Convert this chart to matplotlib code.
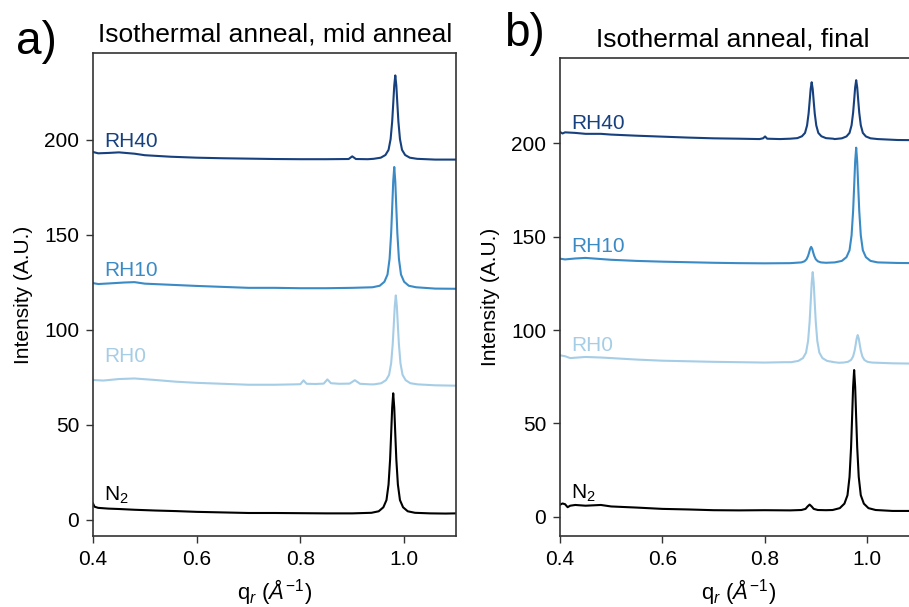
import matplotlib
matplotlib.use("Agg")
import matplotlib.pyplot as plt

plt.rcParams["font.family"] = ["Liberation Sans", "DejaVu Sans"]
plt.rcParams["mathtext.fontset"] = "custom"
plt.rcParams["mathtext.rm"] = "Liberation Sans"
plt.rcParams["mathtext.it"] = "Liberation Sans:italic"

# ---- panel a: mid anneal (q in 1/A, intensity in A.U.) ----
qa_n2 = [0.400, 0.403, 0.41, 0.43, 0.45, 0.48, 0.52, 0.56, 0.60, 0.65, 0.70, 0.75, 0.80, 0.85, 0.90,
         0.937, 0.951, 0.960, 0.966, 0.970, 0.973, 0.975, 0.977, 0.979, 0.981, 0.983, 0.985, 0.988,
         0.992, 0.998, 1.007, 1.021,
         1.05, 1.08, 1.10]
ia_n2 = [8.5, 6.8, 6.2, 5.8, 5.6, 5.2, 4.8, 4.5, 4.1, 3.8, 3.5, 3.5, 3.4, 3.3, 3.3,
         3.6, 4.4, 6.5, 10.3, 18.5, 31.7, 45.0, 58.9, 66.5, 58.9, 45.0, 31.7, 18.5,
         10.3, 6.5, 4.4, 3.6,
         3.3, 3.2, 3.3]

qa_rh0 = [0.40, 0.42, 0.45, 0.48, 0.52, 0.56, 0.60, 0.65, 0.70, 0.75, 0.79,
          0.800, 0.806, 0.812, 0.83, 0.845, 0.852, 0.859, 0.875, 0.895, 0.905, 0.915, 0.935,
          0.942, 0.956, 0.965, 0.971, 0.975, 0.978, 0.980, 0.982, 0.984, 0.986, 0.988, 0.990,
          0.993, 0.997, 1.003, 1.012, 1.026,
          1.06, 1.10]
ia_rh0 = [73.5, 73.2, 74.0, 74.3, 73.5, 72.6, 72.0, 71.5, 71.0, 71.0, 71.2,
          71.3, 73.3, 71.5, 71.4, 71.6, 73.8, 71.8, 71.5, 71.6, 73.4, 71.5, 71.2,
          71.2, 71.8, 73.4, 76.2, 82.3, 92.2, 102.0, 112.4, 118.0, 112.4, 102.0, 92.2,
          82.3, 76.2, 73.4, 71.8, 71.2,
          70.7, 70.5]

qa_rh10 = [0.40, 0.41, 0.43, 0.46, 0.48, 0.50, 0.55, 0.60, 0.65, 0.70, 0.75, 0.80, 0.85, 0.90,
           0.939, 0.953, 0.962, 0.968, 0.972, 0.975, 0.977, 0.979, 0.981, 0.983, 0.985, 0.987,
           0.990, 0.994, 1.000, 1.009, 1.023,
           1.06, 1.10]
ia_rh10 = [124.5, 124.0, 124.3, 124.8, 125.0, 124.2, 123.6, 123.0, 122.5, 122.0, 122.0, 121.8, 121.8, 122.0,
           122.3, 123.1, 125.2, 129.0, 137.3, 150.6, 164.0, 178.0, 185.6, 178.0, 164.0, 150.6,
           137.3, 129.0, 125.2, 123.1, 122.3,
           121.6, 121.5]

qa_rh40 = [0.40, 0.41, 0.43, 0.45, 0.48, 0.50, 0.55, 0.60, 0.65, 0.70, 0.75, 0.80, 0.85,
           0.893, 0.900, 0.907, 0.93,
           0.941, 0.955, 0.964, 0.970, 0.974, 0.977, 0.979, 0.981, 0.983, 0.985, 0.987, 0.989,
           0.992, 0.996, 1.002, 1.011, 1.025,
           1.06, 1.10]
ia_rh40 = [193.5, 192.8, 193.0, 193.3, 192.6, 191.8, 191.0, 190.5, 190.2, 190.0, 189.8, 189.7, 189.7,
           189.8, 191.2, 189.8, 189.7,
           189.9, 190.5, 191.9, 194.6, 200.3, 209.5, 218.8, 228.5, 233.8, 228.5, 218.8, 209.5,
           200.3, 194.6, 191.9, 190.5, 189.9,
           189.5, 189.5]

# ---- panel b: final ----
qb_n2 = [0.400, 0.405, 0.41, 0.415, 0.42, 0.43, 0.45, 0.48, 0.50, 0.55, 0.60, 0.65, 0.70, 0.75, 0.80, 0.85,
         0.872, 0.880, 0.884, 0.888, 0.892, 0.896, 0.904, 0.92,
         0.933, 0.947, 0.956, 0.962, 0.966, 0.969, 0.971, 0.973, 0.975, 0.977, 0.979, 0.981,
         0.984, 0.988, 0.994, 1.003, 1.017,
         1.05, 1.10]
ib_n2 = [6.5, 7.2, 6.8, 5.2, 6.0, 6.4, 6.0, 6.4, 5.6, 5.0, 4.3, 4.0, 3.6, 3.5, 3.6, 3.5,
         3.7, 4.3, 5.6, 6.6, 5.6, 4.3, 3.7, 3.6,
         3.7, 4.7, 7.1, 11.6, 21.4, 37.2, 53.0, 69.6, 78.6, 69.6, 53.0, 37.2,
         21.4, 11.6, 7.1, 4.7, 3.7,
         3.2, 3.2]

qb_rh0 = [0.40, 0.41, 0.42, 0.45, 0.48, 0.50, 0.55, 0.60, 0.65, 0.70, 0.75, 0.80, 0.84,
          0.852, 0.866, 0.875, 0.881, 0.885, 0.888, 0.890, 0.892, 0.894, 0.896, 0.898, 0.900,
          0.903, 0.907, 0.913, 0.922, 0.936,
          0.945,
          0.954, 0.963, 0.969, 0.973, 0.976, 0.978, 0.980, 0.982, 0.984, 0.986, 0.988,
          0.991, 0.995, 1.001, 1.010,
          1.05, 1.10]
ib_rh0 = [86.5, 86.0, 85.0, 85.6, 85.3, 85.0, 84.2, 83.6, 83.3, 83.0, 82.8, 82.6, 82.8,
          82.8, 83.5, 85.0, 87.9, 94.2, 104.4, 114.5, 125.2, 131.0, 125.2, 114.5, 104.4,
          94.2, 87.9, 85.0, 83.5, 82.8,
          82.5,
          82.6, 83.0, 84.0, 85.9, 89.0, 92.2, 95.5, 97.3, 95.5, 92.2, 89.0,
          85.9, 84.0, 83.0, 82.6,
          82.2, 82.0]

qb_rh10 = [0.40, 0.41, 0.43, 0.45, 0.48, 0.50, 0.55, 0.60, 0.65, 0.70, 0.75, 0.80, 0.85,
           0.872, 0.878, 0.882, 0.885, 0.887, 0.889, 0.891, 0.893, 0.895, 0.897, 0.900, 0.904, 0.910,
           0.92,
           0.937, 0.951, 0.960, 0.966, 0.970, 0.973, 0.975, 0.977, 0.979, 0.981, 0.983, 0.985,
           0.988, 0.992, 0.998, 1.007, 1.021,
           1.06, 1.10]
ib_rh10 = [138.2, 137.8, 138.3, 138.6, 138.0, 137.6, 137.0, 136.6, 136.3, 136.0, 135.8, 135.7, 135.8,
           136.2, 136.8, 137.9, 139.7, 141.5, 143.5, 144.5, 143.5, 141.5, 139.7, 137.9, 136.8, 136.2,
           136.0,
           136.2, 137.0, 139.0, 142.7, 150.7, 163.7, 176.6, 190.2, 197.6, 190.2, 176.6, 163.7,
           150.7, 142.7, 139.0, 137.0, 136.2,
           135.9, 135.8]

qb_rh40 = [0.40, 0.405, 0.41, 0.43, 0.45, 0.48, 0.50, 0.55, 0.60, 0.65, 0.70, 0.75, 0.79, 0.797, 0.801, 0.805, 0.83,
           0.850, 0.864, 0.873, 0.879, 0.883, 0.886, 0.888, 0.890, 0.892, 0.894, 0.896, 0.898,
           0.901, 0.905, 0.911, 0.920, 0.934,
           0.937, 0.951, 0.960, 0.966, 0.970, 0.973, 0.975, 0.977, 0.979, 0.981, 0.983, 0.985,
           0.988, 0.992, 0.998, 1.007, 1.021,
           1.06, 1.10]
ib_rh40 = [206.0, 205.2, 205.8, 205.5, 205.0, 205.0, 204.6, 204.0, 203.5, 203.0, 202.6, 202.4, 202.2, 202.6, 203.6, 202.4, 202.2,
           202.4, 202.7, 203.7, 205.5, 209.5, 215.9, 222.3, 229.0, 232.6, 229.0, 222.3, 215.9,
           209.5, 205.5, 203.7, 202.7, 202.4,
           202.2, 202.6, 203.6, 205.5, 209.6, 216.3, 222.9, 229.9, 233.7, 229.9, 222.9, 216.3,
           209.6, 205.5, 203.6, 202.6, 202.2,
           201.7, 201.6]

names = ["N$_2$", "RH0", "RH10", "RH40"]
colors = ["black", "#a6cde6", "#3a8ac6", "#17407e"]

# where the sample names sit (q, intensity)
labels_a = [(0.421, 13), (0.421, 86), (0.421, 131), (0.421, 199)]
labels_b = [(0.421, 12.5), (0.423, 92), (0.423, 144.5), (0.423, 210.6)]

fig = plt.figure(figsize=(9.09, 6.07), dpi=100)
ax_a = fig.add_axes([0.1023, 0.117, 0.3993, 0.7957])
ax_b = fig.add_axes([0.616, 0.117, 0.394, 0.7875])

panels = [
    (ax_a, [(qa_n2, ia_n2), (qa_rh0, ia_rh0), (qa_rh10, ia_rh10), (qa_rh40, ia_rh40)],
     labels_a, "Isothermal anneal, mid anneal", 0.501, (-8.6, 245.6)),
    (ax_b, [(qb_n2, ib_n2), (qb_rh0, ib_rh0), (qb_rh10, ib_rh10), (qb_rh40, ib_rh40)],
     labels_b, "Isothermal anneal, final", 0.483, (-10.2, 245.6)),
]

for ax, series, labs, title, tx, ylim in panels:
    for (q, y), c, n, (lx, ly) in zip(series, colors, names, labs):
        ax.plot(q, y, color=c, lw=1.5)
        ax.text(lx, ly, n, color=c, fontsize=15, va="center", ha="left")
    ax.set_xlim(0.4, 1.1)
    ax.set_ylim(*ylim)
    ax.set_xticks([0.4, 0.6, 0.8, 1.0])
    ax.set_yticks([0, 50, 100, 150, 200])
    ax.set_xlabel(r"q$_r$ ($Å^{-1}$)", fontsize=16, labelpad=6)
    ax.set_ylabel("Intensity (A.U.)", fontsize=15, labelpad=8)
    ax.set_title(title, fontsize=19, pad=8, x=tx)
    ax.tick_params(labelsize=15, length=5, width=1, pad=5, color="#333333")
    for s in ax.spines.values():
        s.set_color("#333333")
        s.set_linewidth(1.2)

fig.text(0.018, 0.93, "a)", fontsize=33, va="center")
fig.text(0.555, 0.944, "b)", fontsize=33, va="center")

fig.savefig("out.png", dpi=100)
